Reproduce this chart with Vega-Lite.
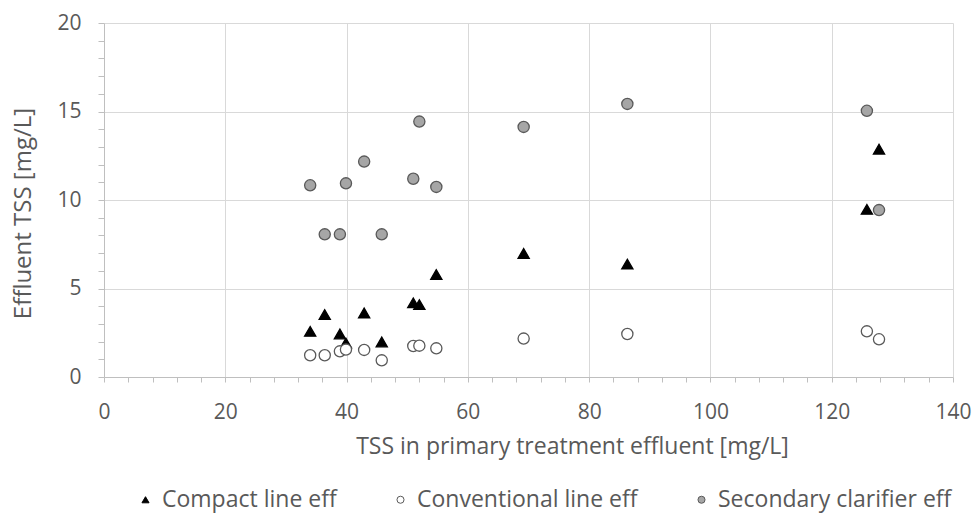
{
  "$schema": "https://vega.github.io/schema/vega-lite/v6.json",
  "width": 849,
  "height": 354,
  "autosize": "none",
  "padding": {"left": 104, "top": 23, "right": 21, "bottom": 141},
  "background": "white",
  "config": {
    "font": "Open Sans",
    "view": {"stroke": null},
    "legend": {
      "title": null,
      "orient": "none",
      "direction": "horizontal",
      "legendX": 30,
      "legendY": 465,
      "padding": 0,
      "labelFontSize": 23,
      "labelColor": "#595959",
      "labelLimit": 500,
      "symbolSize": 50,
      "symbolStrokeWidth": 1,
      "labelOffset": 5,
      "columnPadding": 52
    }
  },
  "data": {
    "values": [
      {"series": "Compact line eff", "primary": 34.0, "effluent": 2.58},
      {"series": "Compact line eff", "primary": 36.4, "effluent": 3.53},
      {"series": "Compact line eff", "primary": 38.9, "effluent": 2.43},
      {"series": "Compact line eff", "primary": 39.9, "effluent": 1.92},
      {"series": "Compact line eff", "primary": 42.9, "effluent": 3.62},
      {"series": "Compact line eff", "primary": 45.8, "effluent": 1.98},
      {"series": "Compact line eff", "primary": 51.0, "effluent": 4.19},
      {"series": "Compact line eff", "primary": 52.0, "effluent": 4.09},
      {"series": "Compact line eff", "primary": 54.8, "effluent": 5.79},
      {"series": "Compact line eff", "primary": 69.2, "effluent": 6.98},
      {"series": "Compact line eff", "primary": 86.3, "effluent": 6.38},
      {"series": "Compact line eff", "primary": 125.8, "effluent": 9.47},
      {"series": "Compact line eff", "primary": 127.8, "effluent": 12.87},
      {"series": "Conventional line eff", "primary": 34.0, "effluent": 1.23},
      {"series": "Conventional line eff", "primary": 36.4, "effluent": 1.23},
      {"series": "Conventional line eff", "primary": 38.9, "effluent": 1.45},
      {"series": "Conventional line eff", "primary": 39.9, "effluent": 1.55},
      {"series": "Conventional line eff", "primary": 42.9, "effluent": 1.53},
      {"series": "Conventional line eff", "primary": 45.8, "effluent": 0.94},
      {"series": "Conventional line eff", "primary": 51.0, "effluent": 1.75},
      {"series": "Conventional line eff", "primary": 52.0, "effluent": 1.77},
      {"series": "Conventional line eff", "primary": 54.8, "effluent": 1.62},
      {"series": "Conventional line eff", "primary": 69.2, "effluent": 2.17},
      {"series": "Conventional line eff", "primary": 86.3, "effluent": 2.43},
      {"series": "Conventional line eff", "primary": 125.8, "effluent": 2.58},
      {"series": "Conventional line eff", "primary": 127.8, "effluent": 2.13},
      {"series": "Secondary clarifier eff", "primary": 34.0, "effluent": 10.83},
      {"series": "Secondary clarifier eff", "primary": 36.4, "effluent": 8.06},
      {"series": "Secondary clarifier eff", "primary": 38.9, "effluent": 8.06},
      {"series": "Secondary clarifier eff", "primary": 39.9, "effluent": 10.94},
      {"series": "Secondary clarifier eff", "primary": 42.9, "effluent": 12.17},
      {"series": "Secondary clarifier eff", "primary": 45.8, "effluent": 8.06},
      {"series": "Secondary clarifier eff", "primary": 51.0, "effluent": 11.2},
      {"series": "Secondary clarifier eff", "primary": 52.0, "effluent": 14.43},
      {"series": "Secondary clarifier eff", "primary": 54.8, "effluent": 10.74},
      {"series": "Secondary clarifier eff", "primary": 69.2, "effluent": 14.13},
      {"series": "Secondary clarifier eff", "primary": 86.3, "effluent": 15.43},
      {"series": "Secondary clarifier eff", "primary": 125.8, "effluent": 15.04},
      {"series": "Secondary clarifier eff", "primary": 127.8, "effluent": 9.43}
    ]
  },
  "mark": {"type": "point", "filled": true, "strokeWidth": 1.3, "opacity": 1, "size": 125},
  "encoding": {
    "x": {
      "field": "primary",
      "type": "quantitative",
      "scale": {"domain": [0, 140], "nice": false, "zero": false},
      "axis": {
        "values": [0,4,8,12,16,20,24,28,32,36,40,44,48,52,56,60,64,68,72,76,80,84,88,92,96,100,104,108,112,116,120,124,128,132,136,140],
        "labelExpr": "datum.value % 20 === 0 ? datum.label : ''",
        "grid": true,
        "gridColor": "#d9d9d9",
        "gridWidth": 1,
        "gridOpacity": {"condition": {"test": "datum.value % 20 === 0 && datum.value > 0", "value": 1}, "value": 0},
        "domainColor": "#bfbfbf",
        "tickColor": "#bfbfbf",
        "tickSize": 5,
        "labelFontSize": 21,
        "labelColor": "#595959",
        "labelPadding": 19,
        "labelFlush": false,
        "labelOverlap": false,
        "title": "TSS in primary treatment effluent [mg/L]",
        "titleFontSize": 23,
        "titleFontWeight": "normal",
        "titleColor": "#595959",
        "titlePadding": 13,
        "titleX": 468
      }
    },
    "y": {
      "field": "effluent",
      "type": "quantitative",
      "scale": {"domain": [0, 20], "nice": false},
      "axis": {
        "values": [0,1,2,3,4,5,6,7,8,9,10,11,12,13,14,15,16,17,18,19,20],
        "labelExpr": "datum.value % 5 === 0 ? datum.label : ''",
        "grid": true,
        "gridColor": "#d9d9d9",
        "gridWidth": 1,
        "gridOpacity": {"condition": {"test": "datum.value % 5 === 0 && datum.value > 0", "value": 1}, "value": 0},
        "domainColor": "#bfbfbf",
        "tickColor": "#bfbfbf",
        "tickSize": 6,
        "labelFontSize": 21,
        "labelColor": "#595959",
        "labelPadding": 17,
        "labelFlush": false,
        "labelOverlap": false,
        "title": "Effluent TSS [mg/L]",
        "titleFontSize": 24,
        "titleFontWeight": "normal",
        "titleColor": "#595959",
        "titlePadding": 21,
        "titleY": 190
      }
    },
    "shape": {
      "field": "series",
      "type": "nominal",
      "scale": {"domain": ["Compact line eff", "Conventional line eff", "Secondary clarifier eff"], "range": ["triangle-up", "circle", "circle"]}
    },
    "fill": {
      "field": "series",
      "type": "nominal",
      "scale": {"domain": ["Compact line eff", "Conventional line eff", "Secondary clarifier eff"], "range": ["#000000", "#ffffff", "#a6a6a6"]}
    },
    "stroke": {
      "field": "series",
      "type": "nominal",
      "scale": {"domain": ["Compact line eff", "Conventional line eff", "Secondary clarifier eff"], "range": ["#000000", "#595959", "#595959"]}
    }
  }
}
